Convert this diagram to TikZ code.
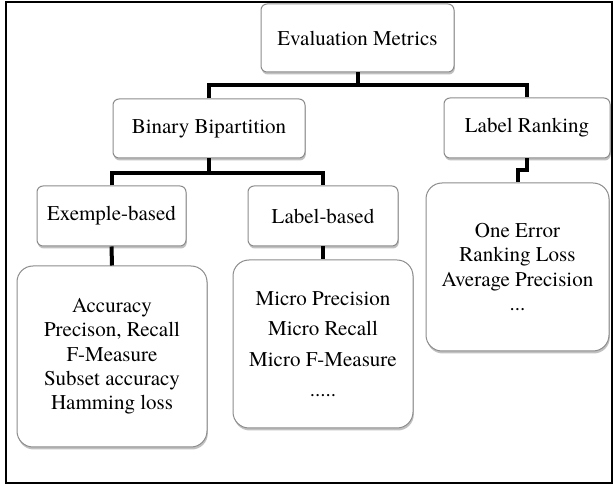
\documentclass[tikz,border=0pt]{standalone}
\usepackage{fontspec}
\setmainfont{TeX Gyre Termes}
\usetikzlibrary{shadows}
\tikzset{
  box/.style={draw=black!45, line width=1pt, fill=white, rounded corners=6pt,
    inner sep=0pt, align=center,
    font=\fontsize{21}{24.3}\selectfont,
    drop shadow={shadow xshift=0.8pt, shadow yshift=-2.5pt, opacity=0.35, fill=black!70}},
  bigbox/.style={box, rounded corners=16pt},
  link/.style={line width=4pt, black},
  frame/.style={line width=2pt, black}
}
\begin{document}
\begin{tikzpicture}[x=1pt,y=-1pt]
\useasboundingbox (0,0) rectangle (614,486);
\draw[frame] (6,2) rectangle (612,483);

\node[box, minimum width=193pt, minimum height=68pt] (eval) at (357.5,38) {Evaluation Metrics};
\node[box, minimum width=192pt, minimum height=59pt] (bb) at (209,128.5) {Binary Bipartition};
\node[box, minimum width=166pt, minimum height=60pt] (lr) at (527,128) {Label Ranking};
\node[box, minimum width=149pt, minimum height=60pt] (eb) at (111.5,216) {Exemple-based};
\node[box, minimum width=150pt, minimum height=60pt] (lb) at (323,216) {Label-based};
\node[bigbox, minimum width=190pt, minimum height=181pt] (lm) at (112,356.5)
  {Accuracy\\Precison, Recall\\F-Measure\\Subset accuracy\\Hamming loss};
\node[bigbox, minimum width=180pt, minimum height=168pt,
  font=\fontsize{21}{30.5}\selectfont] (mm) at (323,344)
  {Micro Precision\\Micro Recall\\Micro F-Measure\\.....};
\node[bigbox, minimum width=183pt, minimum height=168pt] (rm) at (517.5,267)
  {One Error\\Ranking Loss\\Average Precision\\...};

\coordinate (j1) at ([yshift=-13pt]eval.south);
\coordinate (j2) at ([yshift=-15pt]bb.south);
\coordinate (j3) at ([yshift=-12pt]lr.south);
\draw[link] (eval.south) -- (j1);
\draw[link] (bb.north) |- (j1) -| (lr.north);
\draw[link] (bb.south) -- (j2);
\draw[link] (eb.north) |- (j2) -| (lb.north);
\draw[link] (eb.south) -- (lm.north);
\draw[link] (lb.south) -- (mm.north);
\draw[link] (lr.south) -- (j3) -- (j3 -| rm.north) -- (rm.north);
\end{tikzpicture}
\end{document}
